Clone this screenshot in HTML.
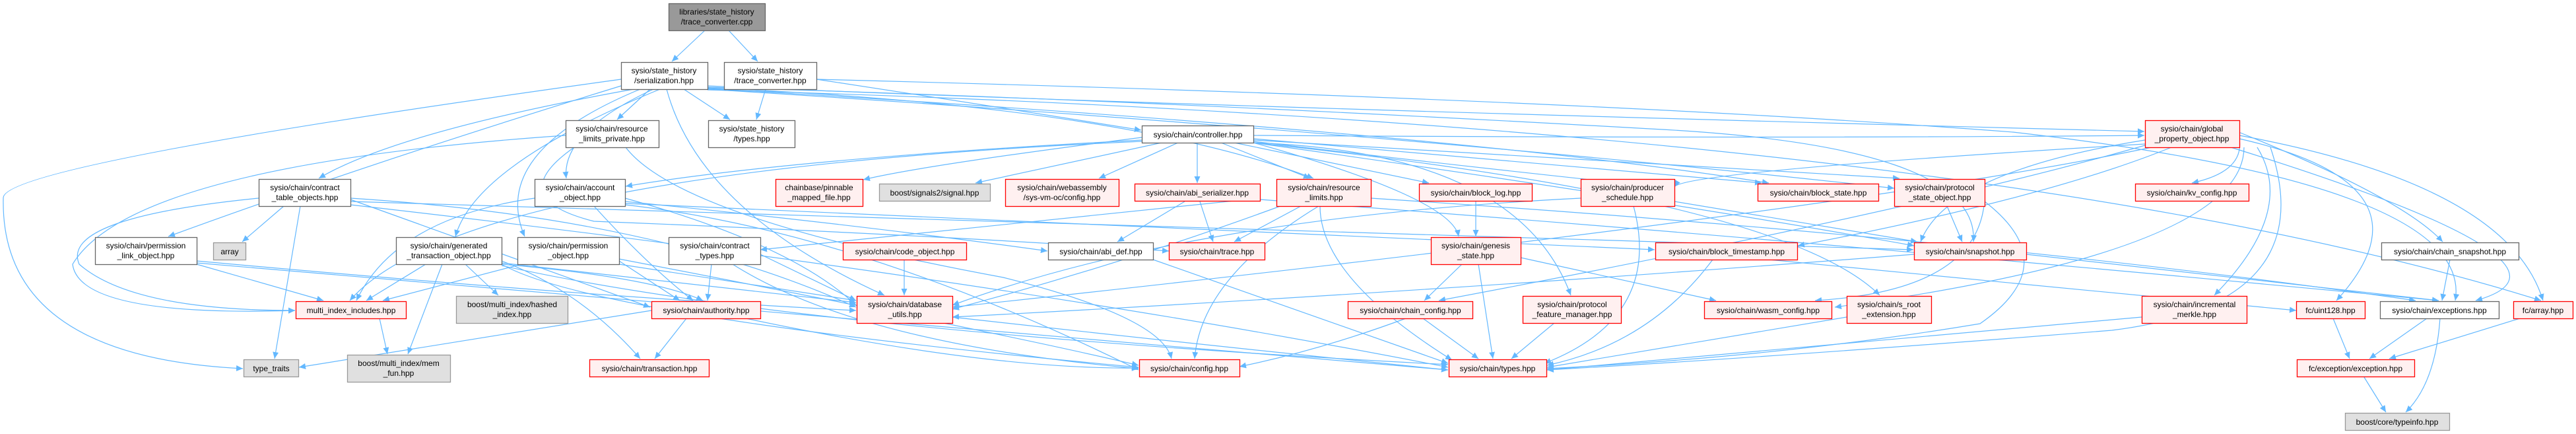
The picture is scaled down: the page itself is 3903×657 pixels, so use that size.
<!DOCTYPE html>
<html><head><meta charset="utf-8"><style>
html,body{margin:0;padding:0;background:#fff;width:3903px;height:657px;overflow:hidden}
svg text{font-family:"Liberation Sans",sans-serif;font-size:12px;fill:#000}
</style></head><body>
<svg width="3903" height="657" viewBox="0 0 3903 657" xmlns="http://www.w3.org/2000/svg">
<defs><marker id="a" markerUnits="userSpaceOnUse" markerWidth="11" markerHeight="9" refX="10" refY="4.5" orient="auto"><path d="M0,0 L10,4.5 L0,9 z" fill="#63b8ff"/></marker></defs>
<g fill="none" stroke="#63b8ff" stroke-width="1.2" marker-end="url(#a)">
<path d="M1068,46 L1018,93"/>
<path d="M1104,46 L1148,93"/>
<path d="M1160,135 L1146,181"/>
<path d="M1237,120 Q1500,160 1729,197"/>
<path d="M1237,120 Q2400,150 3050,200 Q3750,280 3720,455"/>
<path d="M985,135 L935,181"/>
<path d="M960,135 Q600,200 483,270"/>
<path d="M990,135 Q850,200 858,270"/>
<path d="M941,130 Q550,250 255,358"/>
<path d="M1000,135 Q720,250 690,358"/>
<path d="M970,135 Q740,230 795,358"/>
<path d="M941,120 Q0,250 5,300 Q0,540 368,558"/>
<path d="M1036,135 L1106,181"/>
<path d="M1072,130 Q1750,160 3249,199"/>
<path d="M1072,132 Q1700,150 2500,195 Q3000,220 2990,366"/>
<path d="M1072,133 Q1700,160 1990,270"/>
<path d="M1072,134 Q2200,200 2680,277"/>
<path d="M1072,135 Q2100,200 2870,285"/>
<path d="M1072,136 Q3000,190 3850,455"/>
<path d="M1010,135 Q1060,320 1340,447"/>
<path d="M857,205 Q200,250 110,400 Q120,480 447,470"/>
<path d="M870,223 Q760,300 900,335 Q1400,355 1771,380"/>
<path d="M948,223 Q1030,330 1520,420 Q1760,480 1775,543"/>
<path d="M1730,208 Q1400,250 1308,272"/>
<path d="M1760,216 L1478,277"/>
<path d="M1785,216 L1665,270"/>
<path d="M1814,216 L1814,277"/>
<path d="M1850,216 L1985,270"/>
<path d="M1870,216 L2165,277"/>
<path d="M1899,210 L2669,277"/>
<path d="M1899,212 L2878,270"/>
<path d="M1899,205 Q2700,210 3249,205"/>
<path d="M1730,212 Q1200,240 948,282"/>
<path d="M1730,214 Q700,260 530,455"/>
<path d="M1899,214 Q2200,250 2530,285"/>
<path d="M1899,216 Q2200,300 2210,358"/>
<path d="M1899,216 Q2300,230 2380,447"/>
<path d="M1899,216 Q2700,300 2848,447"/>
<path d="M1899,216 Q2500,300 2900,372"/>
<path d="M3393,211 Q3400,260 3321,277"/>
<path d="M3250,212 Q2950,260 2910,366"/>
<path d="M3392,200 Q3640,300 3701,366"/>
<path d="M3380,223 Q3950,400 3751,455"/>
<path d="M3393,205 Q3800,280 3853,455"/>
<path d="M3393,210 Q3700,280 3540,455"/>
<path d="M3420,223 Q3480,320 3355,447"/>
<path d="M3290,223 Q3100,300 2724,372"/>
<path d="M3400,223 Q3400,380 2780,465"/>
<path d="M3250,220 Q2900,320 2180,455"/>
<path d="M3250,218 Q2550,260 2537,283"/>
<path d="M3440,223 Q3520,460 3200,500 Q2700,540 2344,560"/>
<path d="M3260,223 Q2800,320 1443,465"/>
<path d="M430,312 L367,366"/>
<path d="M455,312 L416,543"/>
<path d="M392,300 Q90,330 120,400 Q200,470 447,470"/>
<path d="M531,300 Q1000,330 1297,465"/>
<path d="M531,305 Q1500,330 2899,378"/>
<path d="M531,310 Q1500,420 2194,556"/>
<path d="M531,302 L985,465"/>
<path d="M810,300 Q600,330 540,455"/>
<path d="M900,312 Q980,400 1050,455"/>
<path d="M947,300 Q1200,370 1297,462"/>
<path d="M947,305 Q1300,340 1587,380"/>
<path d="M947,308 Q1500,330 2507,378"/>
<path d="M947,310 Q1300,350 1725,560"/>
<path d="M298,400 L490,455"/>
<path d="M298,395 Q900,450 1297,470"/>
<path d="M298,398 Q1300,480 2194,560"/>
<path d="M645,400 L555,455"/>
<path d="M670,400 L618,536"/>
<path d="M705,400 L755,447"/>
<path d="M760,395 Q880,440 970,543"/>
<path d="M760,398 L1297,458"/>
<path d="M760,400 Q990,420 1065,455"/>
<path d="M760,400 Q900,480 1725,556"/>
<path d="M760,402 Q1200,500 2194,552"/>
<path d="M790,400 L580,455"/>
<path d="M938,395 L1030,455"/>
<path d="M938,400 L1297,455"/>
<path d="M938,392 Q1500,500 1725,553"/>
<path d="M1078,400 L1072,455"/>
<path d="M1110,400 Q1300,520 1725,558"/>
<path d="M1152,385 L1297,455"/>
<path d="M1370,393 L1370,447"/>
<path d="M1909,300 L1152,378"/>
<path d="M1795,305 L1693,366"/>
<path d="M1818,305 L1838,366"/>
<path d="M1909,302 Q2700,360 3695,455"/>
<path d="M1747,393 L2194,550"/>
<path d="M1971,312 L1870,366"/>
<path d="M1998,312 Q1820,420 1810,543"/>
<path d="M2000,312 Q2000,420 2200,545"/>
<path d="M1940,312 Q1700,400 1443,468"/>
<path d="M2077,300 Q3000,360 3660,455"/>
<path d="M2236,305 L2236,358"/>
<path d="M2395,300 Q1800,330 1443,462"/>
<path d="M2475,312 Q2520,480 2340,550"/>
<path d="M2537,305 L2905,366"/>
<path d="M2215,400 L2158,455"/>
<path d="M2240,400 L2262,543"/>
<path d="M2304,390 L2600,455"/>
<path d="M2595,393 Q2500,520 2344,553"/>
<path d="M2680,393 L3479,470"/>
<path d="M3070,385 L3695,455"/>
<path d="M2900,385 Q2200,440 1443,480"/>
<path d="M2950,312 L2973,366"/>
<path d="M3007,305 Q3130,400 3000,490 Q2700,540 2344,558"/>
<path d="M3007,300 Q3000,440 2750,455"/>
<path d="M3712,393 L3700,455"/>
<path d="M575,482 L587,536"/>
<path d="M1040,482 L992,543"/>
<path d="M987,470 L453,556"/>
<path d="M1130,482 Q1500,560 1725,557"/>
<path d="M2130,482 Q2000,530 1878,555"/>
<path d="M2156,482 L2240,543"/>
<path d="M2355,489 L2290,543"/>
<path d="M2798,480 Q2500,530 2344,556"/>
<path d="M3245,480 Q2700,530 2344,560"/>
<path d="M1443,480 Q1800,520 2194,560"/>
<path d="M3535,482 L3560,543"/>
<path d="M3677,482 L3590,543"/>
<path d="M3697,482 Q3690,580 3645,624"/>
<path d="M3818,482 L3620,543"/>
<path d="M3582,571 L3615,624"/>
</g>
<g stroke-width="1.3">
<rect x="1013.5" y="5.5" width="146" height="41" fill="#999" stroke="#666"/>
<rect x="941.5" y="94.5" width="131" height="41" fill="#fff" stroke="#666"/>
<rect x="1097.5" y="94.5" width="140" height="41" fill="#fff" stroke="#666"/>
<rect x="857.5" y="182.5" width="141" height="41" fill="#fff" stroke="#666"/>
<rect x="1073.5" y="182.5" width="131" height="41" fill="#fff" stroke="#666"/>
<rect x="1730.5" y="190.5" width="169" height="26" fill="#fff" stroke="#666"/>
<rect x="3250.5" y="182.5" width="143" height="41" fill="#fff0f0" stroke="#f00"/>
<rect x="392.5" y="271.5" width="139" height="41" fill="#fff" stroke="#666"/>
<rect x="810.5" y="271.5" width="137" height="41" fill="#fff" stroke="#666"/>
<rect x="1175.5" y="271.5" width="132" height="41" fill="#fff0f0" stroke="#f00"/>
<rect x="1332.5" y="278.5" width="168" height="26" fill="#e0e0e0" stroke="#999"/>
<rect x="1523.5" y="271.5" width="172" height="41" fill="#fff0f0" stroke="#f00"/>
<rect x="1719.5" y="278.5" width="190" height="26" fill="#fff0f0" stroke="#f00"/>
<rect x="1934.5" y="271.5" width="143" height="41" fill="#fff0f0" stroke="#f00"/>
<rect x="2150.5" y="278.5" width="171" height="26" fill="#fff0f0" stroke="#f00"/>
<rect x="2395.5" y="271.5" width="142" height="41" fill="#fff0f0" stroke="#f00"/>
<rect x="2663.5" y="278.5" width="183" height="26" fill="#fff0f0" stroke="#f00"/>
<rect x="2870.5" y="271.5" width="137" height="41" fill="#fff0f0" stroke="#f00"/>
<rect x="3235.5" y="278.5" width="172" height="26" fill="#fff0f0" stroke="#f00"/>
<rect x="144.5" y="359.5" width="154" height="41" fill="#fff" stroke="#666"/>
<rect x="323.5" y="367.5" width="49" height="26" fill="#e0e0e0" stroke="#999"/>
<rect x="600.5" y="359.5" width="160" height="41" fill="#fff" stroke="#666"/>
<rect x="784.5" y="359.5" width="154" height="41" fill="#fff" stroke="#666"/>
<rect x="1013.5" y="359.5" width="139" height="41" fill="#fff" stroke="#666"/>
<rect x="1277.5" y="367.5" width="187" height="26" fill="#fff0f0" stroke="#f00"/>
<rect x="1588.5" y="367.5" width="159" height="26" fill="#fff" stroke="#666"/>
<rect x="1771.5" y="367.5" width="145" height="26" fill="#fff0f0" stroke="#f00"/>
<rect x="2168.5" y="359.5" width="136" height="41" fill="#fff0f0" stroke="#f00"/>
<rect x="2508.5" y="367.5" width="215" height="26" fill="#fff0f0" stroke="#f00"/>
<rect x="2900.5" y="367.5" width="170" height="26" fill="#fff0f0" stroke="#f00"/>
<rect x="3608.5" y="367.5" width="208" height="26" fill="#fff" stroke="#666"/>
<rect x="448.5" y="456.5" width="167" height="26" fill="#fff0f0" stroke="#f00"/>
<rect x="691.5" y="448.5" width="169" height="41" fill="#e0e0e0" stroke="#999"/>
<rect x="987.5" y="456.5" width="165" height="26" fill="#fff0f0" stroke="#f00"/>
<rect x="1298.5" y="448.5" width="145" height="41" fill="#fff0f0" stroke="#f00"/>
<rect x="2042.5" y="456.5" width="189" height="26" fill="#fff0f0" stroke="#f00"/>
<rect x="2307.5" y="448.5" width="149" height="41" fill="#fff0f0" stroke="#f00"/>
<rect x="2582.5" y="456.5" width="193" height="26" fill="#fff0f0" stroke="#f00"/>
<rect x="2798.5" y="448.5" width="128" height="41" fill="#fff0f0" stroke="#f00"/>
<rect x="3245.5" y="448.5" width="159" height="41" fill="#fff0f0" stroke="#f00"/>
<rect x="3479.5" y="456.5" width="104" height="26" fill="#fff0f0" stroke="#f00"/>
<rect x="3606.5" y="456.5" width="180" height="26" fill="#fff" stroke="#666"/>
<rect x="3808.5" y="456.5" width="90" height="26" fill="#fff0f0" stroke="#f00"/>
<rect x="369.5" y="544.5" width="83" height="26" fill="#e0e0e0" stroke="#999"/>
<rect x="526.5" y="537.5" width="156" height="41" fill="#e0e0e0" stroke="#999"/>
<rect x="893.5" y="544.5" width="181" height="26" fill="#fff0f0" stroke="#f00"/>
<rect x="1726.5" y="544.5" width="152" height="26" fill="#fff0f0" stroke="#f00"/>
<rect x="2195.5" y="544.5" width="148" height="26" fill="#fff0f0" stroke="#f00"/>
<rect x="3480.5" y="544.5" width="178" height="26" fill="#fff0f0" stroke="#f00"/>
<rect x="3553.5" y="625.5" width="158" height="26" fill="#e0e0e0" stroke="#999"/>
</g>
<g text-anchor="middle">
<text x="1086" y="22">libraries/state_history</text><text x="1086" y="37">/trace_converter.cpp</text>
<text x="1006" y="111">sysio/state_history</text><text x="1006" y="126">/serialization.hpp</text>
<text x="1167" y="111">sysio/state_history</text><text x="1167" y="126">/trace_converter.hpp</text>
<text x="927" y="199">sysio/chain/resource</text><text x="927" y="214">_limits_private.hpp</text>
<text x="1139" y="199">sysio/state_history</text><text x="1139" y="214">/types.hpp</text>
<text x="1815" y="208">sysio/chain/controller.hpp</text>
<text x="3321" y="199">sysio/chain/global</text><text x="3321" y="214">_property_object.hpp</text>
<text x="462" y="288">sysio/chain/contract</text><text x="462" y="303">_table_objects.hpp</text>
<text x="879" y="288">sysio/chain/account</text><text x="879" y="303">_object.hpp</text>
<text x="1241" y="288">chainbase/pinnable</text><text x="1241" y="303">_mapped_file.hpp</text>
<text x="1416" y="296">boost/signals2/signal.hpp</text>
<text x="1609" y="288">sysio/chain/webassembly</text><text x="1609" y="303">/sys-vm-oc/config.hpp</text>
<text x="1814" y="296">sysio/chain/abi_serializer.hpp</text>
<text x="2006" y="288">sysio/chain/resource</text><text x="2006" y="303">_limits.hpp</text>
<text x="2236" y="296">sysio/chain/block_log.hpp</text>
<text x="2466" y="288">sysio/chain/producer</text><text x="2466" y="303">_schedule.hpp</text>
<text x="2755" y="296">sysio/chain/block_state.hpp</text>
<text x="2939" y="288">sysio/chain/protocol</text><text x="2939" y="303">_state_object.hpp</text>
<text x="3321" y="296">sysio/chain/kv_config.hpp</text>
<text x="221" y="376">sysio/chain/permission</text><text x="221" y="391">_link_object.hpp</text>
<text x="348" y="385">array</text>
<text x="680" y="376">sysio/chain/generated</text><text x="680" y="391">_transaction_object.hpp</text>
<text x="861" y="376">sysio/chain/permission</text><text x="861" y="391">_object.hpp</text>
<text x="1083" y="376">sysio/chain/contract</text><text x="1083" y="391">_types.hpp</text>
<text x="1371" y="385">sysio/chain/code_object.hpp</text>
<text x="1668" y="385">sysio/chain/abi_def.hpp</text>
<text x="1844" y="385">sysio/chain/trace.hpp</text>
<text x="2236" y="376">sysio/chain/genesis</text><text x="2236" y="391">_state.hpp</text>
<text x="2616" y="385">sysio/chain/block_timestamp.hpp</text>
<text x="2985" y="385">sysio/chain/snapshot.hpp</text>
<text x="3712" y="385">sysio/chain/chain_snapshot.hpp</text>
<text x="532" y="474">multi_index_includes.hpp</text>
<text x="776" y="465">boost/multi_index/hashed</text><text x="776" y="480">_index.hpp</text>
<text x="1070" y="474">sysio/chain/authority.hpp</text>
<text x="1371" y="465">sysio/chain/database</text><text x="1371" y="480">_utils.hpp</text>
<text x="2137" y="474">sysio/chain/chain_config.hpp</text>
<text x="2382" y="465">sysio/chain/protocol</text><text x="2382" y="480">_feature_manager.hpp</text>
<text x="2679" y="474">sysio/chain/wasm_config.hpp</text>
<text x="2862" y="465">sysio/chain/s_root</text><text x="2862" y="480">_extension.hpp</text>
<text x="3325" y="465">sysio/chain/incremental</text><text x="3325" y="480">_merkle.hpp</text>
<text x="3531" y="474">fc/uint128.hpp</text>
<text x="3696" y="474">sysio/chain/exceptions.hpp</text>
<text x="3853" y="474">fc/array.hpp</text>
<text x="411" y="562">type_traits</text>
<text x="604" y="554">boost/multi_index/mem</text><text x="604" y="569">_fun.hpp</text>
<text x="984" y="562">sysio/chain/transaction.hpp</text>
<text x="1802" y="562">sysio/chain/config.hpp</text>
<text x="2269" y="562">sysio/chain/types.hpp</text>
<text x="3569" y="562">fc/exception/exception.hpp</text>
<text x="3632" y="643">boost/core/typeinfo.hpp</text>
</g>
</svg>
</body></html>
